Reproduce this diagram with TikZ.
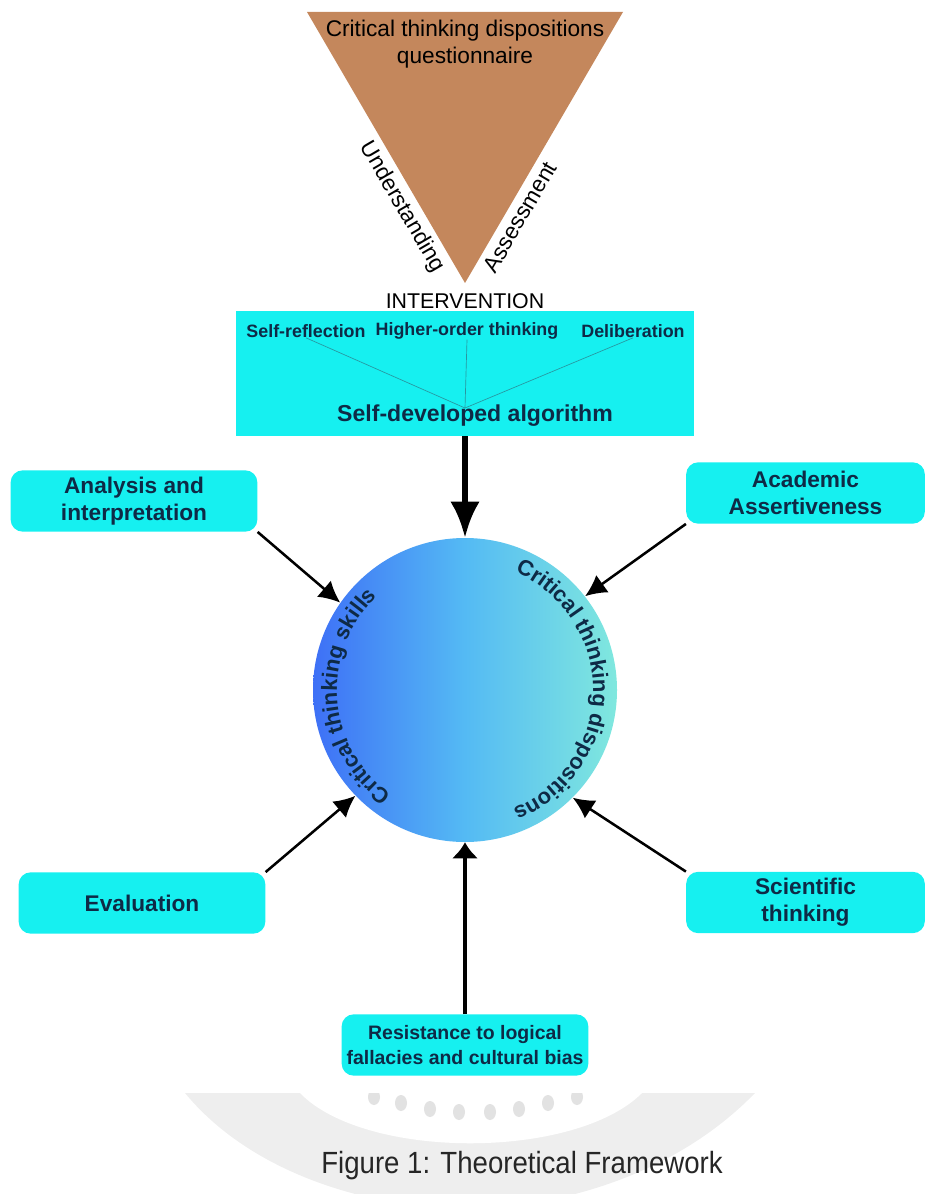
\documentclass[tikz,border=0pt]{standalone}
\usepackage{fontspec}
\setmainfont{Liberation Sans}
\newfontfamily\capfont[FakeStretch=0.9]{Liberation Sans}
\usetikzlibrary{arrows.meta,decorations.text}
\definecolor{aqua}{RGB}{22,240,240}
\definecolor{ink}{RGB}{14,42,70}
\definecolor{clay}{RGB}{196,135,92}
\definecolor{wmark}{RGB}{238,238,238}
\definecolor{wdot}{RGB}{226,226,226}
\definecolor{blueL}{RGB}{62,112,246}
\definecolor{blueM}{RGB}{84,186,244}
\definecolor{blueR}{RGB}{128,232,222}
\definecolor{twigc}{RGB}{40,150,160}

\begin{document}
\begin{tikzpicture}[x=0.75pt, y=0.75pt,
    box/.style={fill=aqua, rounded corners=9pt, align=center, text=ink, inner sep=0pt,
      font=\bfseries\fontsize{17}{20}\selectfont, minimum width=185pt, minimum height=46pt},
    lab/.style={text=ink, inner sep=0pt, font=\bfseries\fontsize{13.4}{16}\selectfont},
    side/.style={text=black, font=\fontsize{17}{20}\selectfont},
    arr/.style={-{Latex[length=16pt,width=16pt]}, line width=1.9pt},
    twig/.style={draw=twigc, line width=0.5pt},
    ring/.style={decorate, decoration={text along path, text align=center, text color=ink,
      text={|\bfseries\fontsize{16.5}{17}\selectfont|#1}}}]
  \useasboundingbox (0,0) rectangle (925,-1194);
  % faint watermark behind the caption
  \begin{scope}
    \clip (150,-1093) rectangle (800,-1194);
    \fill[wmark] (185,-1093) -- (755,-1093) .. controls (690,-1160) and (590,-1205) .. (465,-1210)
      .. controls (340,-1205) and (240,-1160) .. cycle;
    \fill[white] (300,-1093) .. controls (365,-1160) and (575,-1160) .. (642,-1093) -- cycle;
    \foreach \dx/\dy in {374/1097, 401/1103, 430/1109, 459/1112, 490/1112, 519/1109, 548/1103, 577/1097}
      \fill[wdot] (\dx,-\dy) ellipse[x radius=6, y radius=8];
  \end{scope}
  % top triangle
  \fill[clay] (307,-12) -- (623,-12) -- (465,-283) -- cycle;
  \node[side, align=center] (ques) at (465,-44) {Critical thinking dispositions\\questionnaire};
  \node[side, rotate=-59.7] (und) at (402,-207) {Understanding};
  \node[side, rotate=59.7] (ass) at (520,-217) {Assessment};
  \node[side, font=\fontsize{16}{20}\selectfont] (int) at (465,-301) {INTERVENTION};
  % intervention box
  \node[fill=aqua, minimum width=343.5pt, minimum height=93.75pt, inner sep=0pt] (ibox) at (465,-373.5) {};
  \node[lab] (sr)  at (306,-331) {Self-reflection};
  \node[lab] (hot) at (467,-331) {Higher-order thinking};
  \node[lab] (del) at (633,-331) {Deliberation};
  \coordinate (meet) at (465,-408);
  \draw[twig] (sr.south) -- (meet);
  \draw[twig] (hot.south) -- (meet);
  \draw[twig] (del.south) -- (meet);
  \node[text=ink, font=\bfseries\fontsize{17.3}{20}\selectfont] (alg) at (475,-416) {Self-developed algorithm};
  % centre circle
  \node[circle, minimum size=228pt, inner sep=0pt, left color=blueL, right color=blueR, middle color=blueM] (circ) at (465,-690) {};
  \path[ring=Critical thinking skills] (circ.center) ++(254:128) arc[start angle=254, end angle=114, radius=128];
  \path[ring=Critical thinking dispositions] (circ.center) ++(82:128) arc[start angle=82, end angle=-83, radius=128];
  % outer boxes
  \node[box] (ana) at (134,-501) {Analysis and\\interpretation};
  \node[box, minimum width=179pt] (aca) at (805.5,-493) {Academic\\Assertiveness};
  \node[box] (eva) at (142,-903) {Evaluation};
  \node[box, minimum width=179pt] (sci) at (805.5,-902.5) {Scientific\\thinking};
  \node[box, font=\bfseries\fontsize{14.6}{18.5}\selectfont] (res) at (465,-1045) {Resistance to logical\\fallacies and cultural bias};
  % arrows
  \draw[-{Latex[length=27pt,width=22pt]}, line width=4.5pt] (ibox.south) -- (circ.north);
  \draw[arr] (ana.south east) -- (circ.145);
  \draw[arr] (aca.south west) -- (circ.38);
  \draw[arr] (eva.north east) -- (circ.224);
  \draw[arr] (sci.north west) -- (circ.-45);
  \draw[-{Latex[length=12pt,width=20pt]}, line width=2.3pt] (res.north) -- (circ.south);
  \node[font=\capfont\fontsize{23}{26}\selectfont, text=black!85] (cap) at (522,-1166) {Figure 1: Theoretical Framework};
\end{tikzpicture}
\end{document}
